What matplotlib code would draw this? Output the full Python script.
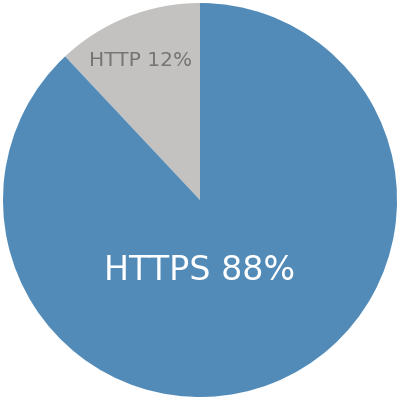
import matplotlib
matplotlib.use('Agg')
import matplotlib.pyplot as plt

# data
labels = ['HTTP', 'HTTPS']
shares = [12, 88]
colors = ['#c4c2c0', '#528bb8']
text_colors = ['#757575', 'white']
text_sizes = [14.5, 24]
# label positions in data units (relative to pie radius)
text_pos = [(-0.30, 0.71), (0.0, -0.36)]

fig = plt.figure(figsize=(4, 4), dpi=100)
ax = fig.add_axes([0, 0, 1, 1])
ax.pie(shares, colors=colors, startangle=90, counterclock=True,
       radius=1.0, wedgeprops={'linewidth': 0})

for lab, val, c, s, (x, y) in zip(labels, shares, text_colors, text_sizes, text_pos):
    ax.text(x, y, f'{lab} {val}%', color=c, fontsize=s,
            ha='center', va='center', family='DejaVu Sans')

lim = 200 / 197
ax.set_xlim(-lim, lim)
ax.set_ylim(-lim, lim)
ax.set_aspect('equal')
ax.axis('off')

fig.savefig('out.png', dpi=100)
